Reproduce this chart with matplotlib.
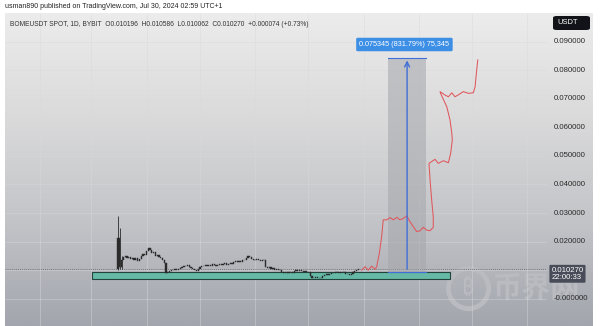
import numpy as np
import matplotlib
matplotlib.use("Agg")
import matplotlib.pyplot as plt
from matplotlib.patches import Rectangle, FancyBboxPatch
from matplotlib.colors import LinearSegmentedColormap
import matplotlib.transforms as mtransforms

plt.rcParams['font.family'] = ['Liberation Sans', 'DejaVu Sans']

# ---- data ----
# daily closes of BOMEUSDT, day 0 = listing day
closes = [0.0212, 0.0110, 0.0135,
          0.0145, 0.0150, 0.0141, 0.0147, 0.0138, 0.0144, 0.0136, 0.0142, 0.0133, 0.0139,
          0.0148, 0.0156, 0.0152, 0.0168, 0.0178,
          0.0170, 0.0160, 0.0163, 0.0150, 0.0153, 0.0145, 0.0141,
          0.0137, 0.0126, 0.0090,
          0.0095, 0.0098, 0.0101, 0.0099, 0.0104, 0.0100, 0.0103,
          0.0108, 0.0112, 0.0116, 0.0113, 0.0118,
          0.0112, 0.0107, 0.0103, 0.0100, 0.0098,
          0.0103, 0.0110, 0.0116, 0.0114, 0.0118,
          0.0115, 0.0119, 0.0116, 0.0120, 0.0117, 0.0113, 0.0118, 0.0121, 0.0117, 0.0120, 0.0124, 0.0119, 0.0123,
          0.0126, 0.0122, 0.0128, 0.0131, 0.0127, 0.0133, 0.0130, 0.0136, 0.0134,
          0.0142, 0.0150, 0.0145, 0.0140,
          0.0137, 0.0134, 0.0138, 0.0135, 0.0133, 0.0137, 0.0135,
          0.0112, 0.0108, 0.0110, 0.0104, 0.0106, 0.0101, 0.0103, 0.0099, 0.0102,
          0.0094, 0.0091, 0.0093, 0.0090,
          0.0092, 0.0095, 0.0091, 0.0096, 0.0100, 0.0098, 0.0102, 0.0097, 0.0094, 0.0096, 0.0092, 0.0093,
          0.0080, 0.0074, 0.0072, 0.0075, 0.0071, 0.0073,
          0.0074, 0.0078, 0.0083, 0.0086, 0.0084, 0.0088, 0.0091,
          0.0089, 0.0092, 0.0094, 0.0090, 0.0093, 0.0095, 0.0092,
          0.0088, 0.0085, 0.0083, 0.0086,
          0.0092, 0.0096, 0.0100, 0.01027]
first_open = 0.0105
# wicks of the listing-spike candles
spike_highs = [0.0291, 0.0249, 0.0150]
spike_lows = [0.0100, 0.0105, 0.0105]

# hand drawn projection (red line): day, price
proj_days = [136.9, 138.8, 140.6, 142.5, 144.4, 145.3, 146.8, 148.1, 149.0, 151.0, 152.8,
             154.7, 156.6, 158.4, 160.3, 162.2, 164.0, 165.9, 167.8, 169.7, 171.5, 173.4,
             175.3, 177.1, 177.1, 176.2, 175.3, 174.7, 176.2, 178.1, 179.9, 182.8, 185.6,
             186.9, 187.8, 187.5, 186.5, 184.7, 181.5, 180.9, 183.7, 185.6, 187.5, 189.3,
             191.0, 194.0, 196.8, 199.6, 200.6, 201.5, 202.1]
proj_prices = [0.0100, 0.0112, 0.0100, 0.0114, 0.0103, 0.0112, 0.0159, 0.0217, 0.0276, 0.0276, 0.0284,
               0.0276, 0.0285, 0.0276, 0.0281, 0.0290, 0.0270, 0.0252, 0.0235, 0.0238, 0.0250, 0.0240,
               0.0238, 0.0250, 0.0287, 0.0346, 0.0416, 0.0474, 0.0480, 0.0488, 0.0474, 0.0483, 0.0476,
               0.0510, 0.0556, 0.0580, 0.0626, 0.0672, 0.0715, 0.0725, 0.0713, 0.0707, 0.0721, 0.0707,
               0.0713, 0.0725, 0.0719, 0.0721, 0.0742, 0.0801, 0.0836]

# zone / measure tool
zone_days = (-14.6, 186.5)
zone_prices = (0.0068, 0.0094)
measure_days = (151.8, 173.0)
measure_prices = (0.0093, 0.0844)
measure_label = "0.075345 (831.79%) 75,345"
last_price = 0.01027

price_ticks = [0.00, 0.01, 0.02, 0.03, 0.04, 0.05, 0.06, 0.07, 0.08, 0.09]
price_labels = ["-0.000000", "", "0.020000", "0.030000", "0.040000", "0.050000",
                "0.060000", "0.070000", "0.080000", "0.090000"]
month_days = [-44, -15, 16, 46, 77, 107, 138, 169, 199, 230]

title = "usman890 published on TradingView.com, Jul 30, 2024 02:59 UTC+1"
header = "BOMEUSDT SPOT, 1D, BYBIT  O0.010196  H0.010586  L0.010062  C0.010270  +0.000074 (+0.73%)"

# ---- figure ----
W, H = 600, 326
fig = plt.figure(figsize=(W / 100, H / 100), dpi=100)
fig.patch.set_facecolor('white')

# panel background gradient (also carries the watermark, so it sits behind everything)
bg = fig.add_axes([5 / W, 0, 588 / W, 313 / H])
cmap = LinearSegmentedColormap.from_list('tv', ['#a2a5ad', '#c3c4c8', '#dadadb', '#ececec'])
bg.imshow(np.linspace(0, 1, 256).reshape(-1, 1), aspect='auto', cmap=cmap, origin='lower',
          extent=[0, 1, 0, 1])
bg.set_xlim(0, 1)
bg.set_ylim(0, 1)
bg.axis('off')
bg.plot([0.787], [0.121], 'o', ms=29, mfc='none', mec='#b9bbc0', mew=3.5, clip_on=False)
bg.text(0.787, 0.121, "\u20bf", fontsize=15, color='#b9bbc0', ha='center', va='center',
        weight='bold', family=['Noto Sans', 'Roboto', 'DejaVu Sans'])
bg.text(0.828, 0.121, "币界网", fontsize=21, color='#b9bbc0', ha='left', va='center',
        weight='bold', family=['Noto Sans CJK SC'])

ax = fig.add_axes([5 / W, 0, 542 / W, 313 / H])
ax.set_facecolor('none')
ax.set_xlim(-63.5, 241.0)
ax.set_ylim(-0.00956, 0.10003)
for s in ax.spines.values():
    s.set_visible(False)
ax.set_xticks(month_days)
ax.set_yticks(price_ticks)
ax.tick_params(length=0, labelbottom=False, labelleft=False)
ax.grid(True, color='#d9d9db', lw=0.5, alpha=0.6)

# zone
ax.add_patch(Rectangle((zone_days[0], zone_prices[0]), zone_days[1] - zone_days[0],
                       zone_prices[1] - zone_prices[0], facecolor='#66b9a6',
                       edgecolor='#23443c', lw=0.8, zorder=2))

# candles
opens = [first_open] + closes[:-1]
for i, (o, c) in enumerate(zip(opens, closes)):
    lo, hi = min(o, c), max(o, c)
    if i < len(spike_highs):
        ax.vlines(i, spike_lows[i], spike_highs[i], color='#2b2b2b', lw=0.6, zorder=4)
    ax.add_patch(Rectangle((i - 0.35, lo), 0.7, max(hi - lo, 0.00012), facecolor='#2b2b2b',
                           edgecolor='#2b2b2b', lw=0.3, zorder=4))

# last price dotted line
ax.axhline(last_price, color='#5a5d63', lw=0.6, ls=(0, (1, 1.5)), zorder=3)

# measure tool
ax.add_patch(Rectangle((measure_days[0], measure_prices[0]), measure_days[1] - measure_days[0],
                       measure_prices[1] - measure_prices[0], facecolor='#a4a6ab',
                       alpha=0.55, lw=0, zorder=3))
ax.plot(measure_days, [measure_prices[1]] * 2, color='#3f6fd8', lw=0.8, zorder=5)
ax.plot(measure_days, [measure_prices[0]] * 2, color='#3f6fd8', lw=0.8, zorder=5)
mid = (measure_days[0] + measure_days[1]) / 2
ax.annotate('', xy=(mid, measure_prices[1]), xytext=(mid, measure_prices[0]),
            arrowprops=dict(arrowstyle='->', color='#3f6fd8', lw=1.0,
                            mutation_scale=9), zorder=6)
ax.text(mid - 1.5, 0.0890, measure_label, ha='center', va='center', fontsize=5.2, color='white',
        zorder=7, bbox=dict(boxstyle='round,pad=0.45,rounding_size=0.2', fc='#3d8fe6', ec='none'))

# projection
ax.plot(proj_days, proj_prices, color='#e0575b', lw=0.75, zorder=5)

# price axis labels
tr = mtransforms.blended_transform_factory(ax.transAxes, ax.transData)
for p, lab in zip(price_ticks, price_labels):
    if lab:
        ax.text(1.012, p, lab, transform=tr, ha='left', va='center', fontsize=5.6,
                color='#2a2a2a', clip_on=False, zorder=8)
ax.text(1.008, last_price + 0.0009, "0.010270\n22:00:33", transform=tr, ha='left', va='top',
        fontsize=5.6, color='white', linespacing=1.0, clip_on=False, zorder=8,
        bbox=dict(boxstyle='round,pad=0.25,rounding_size=0.15', fc='#474c58', ec='none'))

# USDT badge
fig.patches.append(FancyBboxPatch((553 / W, 1 - 30 / H), 37 / W, 14 / H,
                                  boxstyle='round,pad=0,rounding_size=0.006',
                                  transform=fig.transFigure, fc='#111318', ec='none'))
fig.text(557 / W, 1 - 23 / H, "USDT", fontsize=5.4, color='white', va='center')

# header texts
fig.text(5 / W, 1 - 7 / H, title, fontsize=5.0, color='#222222', va='center')
fig.text(10 / W, 1 - 24 / H, header, fontsize=4.75, color='#333333', va='center')

fig.savefig('out.png', dpi=100)
